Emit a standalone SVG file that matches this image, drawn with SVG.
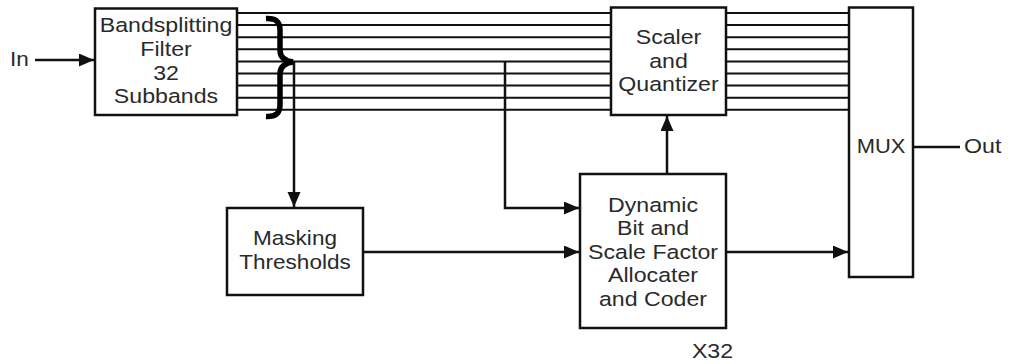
<svg xmlns="http://www.w3.org/2000/svg" width="1011" height="364" viewBox="0 0 1011 364">
<style>
.box{fill:#fff;stroke:#111;stroke-width:2.5}
.bus{stroke:#111;stroke-width:2;fill:none}
.wire{stroke:#111;stroke-width:2.5;fill:none}
.arr{stroke:#111;stroke-width:2.5;fill:none;marker-end:url(#ah)}
text{font-family:"Liberation Sans",Arial,sans-serif;font-size:20.5px;fill:#2a2a2a;text-anchor:middle}
</style>
<defs>
<marker id="ah" markerUnits="userSpaceOnUse" markerWidth="16" markerHeight="14" refX="15" refY="6.5" orient="auto">
<path d="M0,0 L15,6.5 L0,13 Z" fill="#111"/>
</marker>
</defs>
<rect width="1011" height="364" fill="#fff"/>
<g id="connectors">
<g id="bus-left">
<path class="bus" d="M237,13H611M237,25.1H611M237,37.2H611M237,49.3H611M237,61.4H611M237,73.5H611M237,85.6H611M237,97.7H611M237,109.8H611"/>
</g>
<g id="bus-right">
<path class="bus" d="M726,13H849M726,25.1H849M726,37.2H849M726,49.3H849M726,61.4H849M726,73.5H849M726,85.6H849M726,97.7H849M726,109.8H849"/>
</g>
<path id="brace" d="M266,18.5 C276,18 280,22 280,30 L280,50 C280,57 285,61 293,62 C285,63 280,67 280,74 L280,105 C280,113 276,117 266,116.5" fill="none" stroke="#000" stroke-width="5.5"/>
<path class="arr" d="M35,60H94"/>
<path class="arr" d="M294,62V207"/>
<path class="arr" d="M505,61.4V208H579"/>
<path class="arr" d="M363,252H579"/>
<path class="arr" d="M726,252H848"/>
<path class="arr" d="M667,174V116"/>
<path class="wire" d="M913,147H960"/>
</g>
<g id="in-label">
<g transform="translate(10 0) scale(1.1 1)">
<text x="0" y="66" style="text-anchor:start">In</text>
</g>
</g>
<g id="bandsplitting">
<rect class="box" x="95" y="8.5" width="142" height="106.5"/>
<g transform="translate(166 0) scale(1.13 1)">
<text x="0" y="32.5">Bandsplitting</text>
<text x="0" y="56.5">Filter</text>
<text x="0" y="80">32</text>
<text x="0" y="103">Subbands</text>
</g>
</g>
<g id="scaler">
<rect class="box" x="611" y="7.5" width="115" height="107.5"/>
<g transform="translate(668.5 0) scale(1.13 1)">
<text x="0" y="44.5">Scaler</text>
<text x="0" y="68">and</text>
<text x="0" y="91">Quantizer</text>
</g>
</g>
<g id="mux">
<rect class="box" x="849" y="7.5" width="64" height="269.5"/>
<g transform="translate(881 0) scale(1.07 1)">
<text x="0" y="153">MUX</text>
</g>
</g>
<g id="out-label">
<g transform="translate(964 0) scale(1.13 1)">
<text x="0" y="153" style="text-anchor:start">Out</text>
</g>
</g>
<g id="masking">
<rect class="box" x="227" y="208" width="136" height="87"/>
<g transform="translate(295 0) scale(1.1 1)">
<text x="0" y="245">Masking</text>
<text x="0" y="269">Thresholds</text>
</g>
</g>
<g id="dynamic">
<rect class="box" x="580" y="174" width="146" height="154"/>
<g transform="translate(653 0) scale(1.13 1)">
<text x="0" y="212">Dynamic</text>
<text x="0" y="235.5">Bit and</text>
<text x="0" y="259.5">Scale Factor</text>
<text x="0" y="282.5">Allocater</text>
<text x="0" y="306">and Coder</text>
</g>
</g>
<g id="x32-label">
<g transform="translate(712.5 0) scale(1.13 1)">
<text x="0" y="358">X32</text>
</g>
</g>
</svg>
